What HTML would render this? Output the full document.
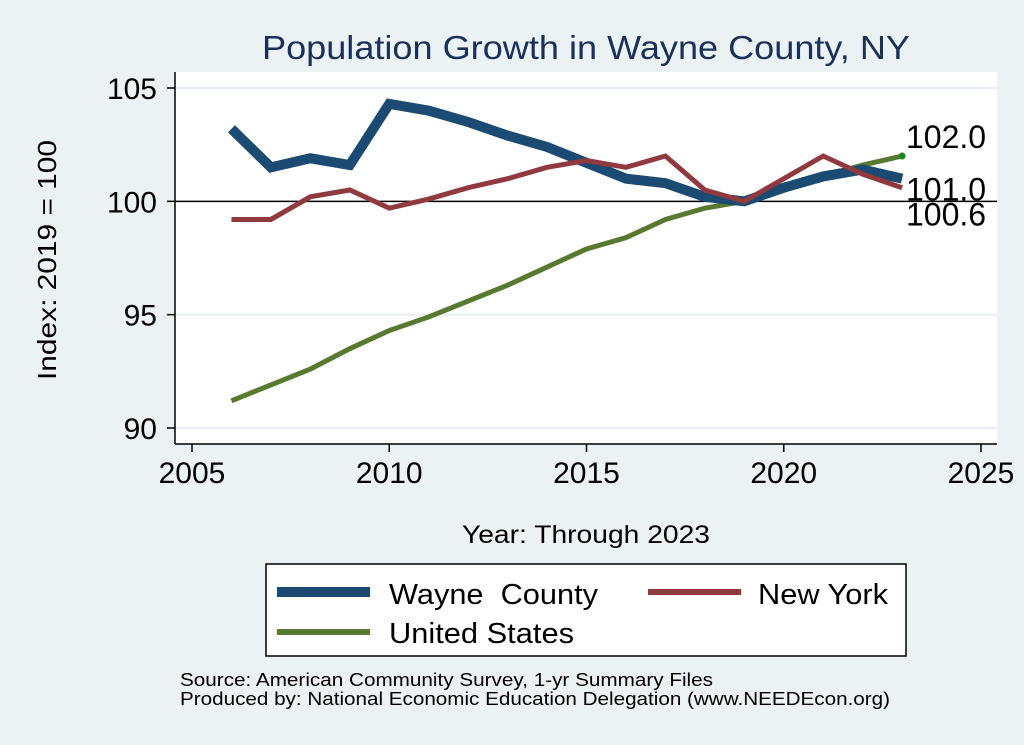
<!DOCTYPE html>
<html><head><meta charset="utf-8"><style>
body{margin:0;background:#eaf2f3;}
svg{display:block;font-family:"Liberation Sans",Arial,sans-serif;}
</style></head><body>
<svg width="1024" height="745" viewBox="0 0 1024 745">
<rect x="0" y="0" width="1024" height="745" fill="#eaf2f3"/>
<text x="262" y="59" font-size="33" fill="#1a2f5a" textLength="648" lengthAdjust="spacingAndGlyphs">Population Growth in Wayne County, NY</text>
<rect x="175" y="72" width="822" height="372" fill="#ffffff"/>
<g id="grid"></g>
<g id="axes"></g>
<g id="series"></g>
<g id="labels"></g>
<text x="462" y="543" font-size="25" fill="#000" textLength="248" lengthAdjust="spacingAndGlyphs">Year: Through 2023</text>
<text x="0" y="0" font-size="26" fill="#000" textLength="240" lengthAdjust="spacingAndGlyphs" transform="translate(56,380) rotate(-90)">Index: 2019 = 100</text>
<g>
<rect x="266" y="564" width="640" height="92" fill="#fff" stroke="#000" stroke-width="1.5"/>
<line x1="277" y1="592" x2="370" y2="592" stroke="#1b4a72" stroke-width="10"/>
<text x="389" y="604" font-size="29" textLength="209" lengthAdjust="spacingAndGlyphs">Wayne&#160;&#160;County</text>
<line x1="648" y1="592" x2="741" y2="592" stroke="#903a40" stroke-width="6"/>
<text x="758" y="604" font-size="29" textLength="130" lengthAdjust="spacingAndGlyphs">New York</text>
<line x1="277" y1="632" x2="370" y2="632" stroke="#587a30" stroke-width="6"/>
<text x="389" y="643" font-size="29" textLength="185" lengthAdjust="spacingAndGlyphs">United States</text>
</g>
<text x="180" y="686" font-size="18" textLength="533" lengthAdjust="spacingAndGlyphs">Source: American Community Survey, 1-yr Summary Files</text>
<text x="180" y="705" font-size="18" textLength="710" lengthAdjust="spacingAndGlyphs">Produced by: National Economic Education Delegation (www.NEEDEcon.org)</text>
</svg>
<script>
const years=[2006,2007,2008,2009,2010,2011,2012,2013,2014,2015,2016,2017,2018,2019,2020,2021,2022,2023];
const wayne=[103.2,101.5,101.9,101.6,104.3,104.0,103.5,102.9,102.4,101.7,101.0,100.8,100.2,100.0,100.6,101.1,101.4,101.0];
const newYork=[99.2,99.2,100.2,100.5,99.7,100.1,100.6,101.0,101.5,101.8,101.5,102.0,100.5,100.0,101.0,102.0,101.2,100.6];
const us=[91.2,91.9,92.6,93.5,94.3,94.9,95.6,96.3,97.1,97.9,98.4,99.2,99.7,100.0,100.5,101.1,101.6,102.0];
const xTicks=[2005,2010,2015,2020,2025];
const yTicks=[90,95,100,105];
const NS='http://www.w3.org/2000/svg';
const X=v=>192+(v-2005)*(981-192)/20;
const Y=v=>428+(v-90)*(88-428)/15;
function mk(tag,attrs,parent){const e=document.createElementNS(NS,tag);for(const k in attrs)e.setAttribute(k,attrs[k]);document.getElementById(parent).appendChild(e);return e;}
yTicks.forEach(t=>{
 if(t!==100){const g=mk('line',{x1:175,x2:997,y1:Y(t),y2:Y(t),stroke:'#e6eef2','stroke-width':2},'grid');
 
 }
 const tk=mk('line',{x1:167,x2:175,y1:Y(t),y2:Y(t),stroke:'#000','stroke-width':1.5},'axes');
 
 
 const tx=mk('text',{x:157,y:Y(t)+11,'font-size':30,'text-anchor':'end'},'axes');tx.textContent=t;
 
 
});
xTicks.forEach(t=>{
 const tk=mk('line',{x1:X(t),x2:X(t),y1:444,y2:452,stroke:'#000','stroke-width':1.5},'axes');
 
 
 const tx=mk('text',{x:X(t),y:483,'font-size':30,'text-anchor':'middle'},'axes');tx.textContent=t;
 
 
});
const ya=mk('line',{x1:175,x2:175,y1:72,y2:444,stroke:'#000','stroke-width':1.5},'axes');


const xa=mk('line',{x1:175,x2:997,y1:444,y2:444,stroke:'#000','stroke-width':1.5},'axes');


const ref=mk('line',{x1:175,x2:997,y1:Y(100),y2:Y(100),stroke:'#000','stroke-width':1.5},'axes');


function line(vals,color,w,name){
 const p=mk('polyline',{points:vals.map((v,i)=>X(years[i])+','+Y(v)).join(' '),fill:'none',stroke:color,'stroke-width':w,'stroke-linejoin':'miter','stroke-linecap':'butt'},'series');
 
 
}
line(us,'#587a30',5,'line-united-states');
line(wayne,'#1b4a72',10,'line-wayne-county');
line(newYork,'#903a40',5,'line-new-york');
const last=years.length-1;
const dot=mk('circle',{cx:X(years[last]),cy:Y(us[last]),r:3.5,fill:'#1a8a1a'},'series');


[[us[last],-8,'label-us-end'],[wayne[last],22,'label-wayne-end'],[newYork[last],38,'label-ny-end']].forEach(([v,dy,n],i)=>{
 const base=[Y(us[last]),Y(wayne[last]),Y(newYork[last])][i];
 const t=mk('text',{x:906,y:base+dy,'font-size':32},'labels');t.textContent=v.toFixed(1);
 
 
});
</script>
</body></html>
